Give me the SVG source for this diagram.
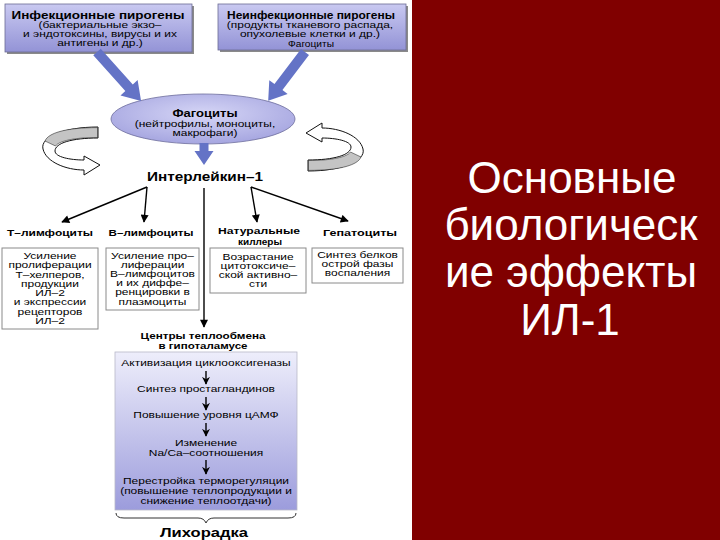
<svg xmlns="http://www.w3.org/2000/svg" width="720" height="540" viewBox="0 0 720 540">
<defs>
<linearGradient id="gTop" x1="0" y1="0" x2="0" y2="1">
<stop offset="0" stop-color="#c9c9f1"/>
<stop offset="1" stop-color="#9393d6"/>
</linearGradient>
<radialGradient id="gEll" cx="0.5" cy="0.4" r="0.6">
<stop offset="0" stop-color="#d6d6f6"/>
<stop offset="1" stop-color="#a6a6e0"/>
</radialGradient>
<linearGradient id="gBox" x1="0" y1="0" x2="0" y2="1">
<stop offset="0" stop-color="#eeeefb"/>
<stop offset="1" stop-color="#9c9cdc"/>
</linearGradient>
<marker id="ah" viewBox="0 0 10 10" refX="9" refY="5" markerWidth="9" markerHeight="8" markerUnits="userSpaceOnUse" orient="auto">
<path d="M0,0 L10,5 L0,10 Z" fill="#000"/>
</marker>
<marker id="ah2" viewBox="0 0 10 10" refX="9" refY="5" markerWidth="8" markerHeight="9" markerUnits="userSpaceOnUse" orient="auto">
<path d="M0,0 L10,5 L0,10 L3,5 Z" fill="#000"/>
</marker>
<path id="curlShape" d="M98,127 C64,127 40,137 43,149 C46,162 66,170 84,170 L84,175 L100,165 L84,156 L84,160 C70,160 55,157 55,151 C55,143 72,138 98,138 Z"/>
<path id="curlShade" d="M97.5,127.6 C66,127.6 48,133 45,141 L55.5,146 C59,141 74,137.5 97.5,137.5 Z"/>
</defs>
<style>
text{font-family:"Liberation Sans","DejaVu Sans",Arial,sans-serif;fill:#000;text-anchor:middle}
.b{font-weight:bold}
.n{font-size:9px}
.topbox{fill:url(#gTop);stroke:#6c6c94;stroke-width:0.8}
.shadow{fill:#8a8a8a}
.cell{fill:#fff;stroke:#8a8a8a;stroke-width:1}
.thick{fill:#6473c6}
.thin{stroke:#000;stroke-width:1.4;fill:none}
.curl{fill:#fff;stroke:#111;stroke-width:1}
.shade{fill:#c4c4c4;stroke:#111;stroke-width:0.5}
.title{font-size:44px;fill:#fff}
</style>
<rect x="0" y="0" width="720" height="540" fill="#fff"/>
<rect x="412" y="0" width="308" height="540" fill="#800000"/>

<g id="curl-left">
<use href="#curlShape" class="curl"/>
<use href="#curlShade" class="shade"/>
</g>
<g id="curl-right" transform="rotate(180 203 149)">
<use href="#curlShape" class="curl"/>
<use href="#curlShade" class="shade"/>
</g>

<g id="infect">
<rect class="shadow" x="7" y="6" width="187" height="48"/>
<rect class="topbox" x="5" y="4" width="187" height="48"/>
<text class="b" style="font-size:10.5px" x="98" y="18.5" textLength="173" lengthAdjust="spacingAndGlyphs">Инфекционные пирогены</text>
<g transform="translate(100 0) scale(1.33 1)">
<text class="n" x="0" y="28.5">(бактериальные экзо–</text>
<text class="n" x="0" y="37.5">и эндотоксины, вирусы и их</text>
<text class="n" x="0" y="46.5">антигены и др.)</text>
</g>
</g>

<g id="noninfect">
<rect class="shadow" x="220" y="6" width="188" height="46"/>
<rect class="topbox" x="218" y="4" width="188" height="46"/>
<text class="b" style="font-size:10.5px" x="311" y="18.5" textLength="168" lengthAdjust="spacingAndGlyphs">Неинфекционные пирогены</text>
<g transform="translate(310 0) scale(1.33 1)">
<text class="n" x="0" y="28">(продукты тканевого распада,</text>
<text class="n" x="0" y="37">опухолевые клетки и др.)</text>
</g>
<text class="n" x="311" y="46.5" textLength="46" lengthAdjust="spacingAndGlyphs">Фагоциты</text>
</g>

<g id="phago">
<ellipse cx="203" cy="119" rx="92" ry="25" fill="url(#gEll)" stroke="#6c6c9c" stroke-width="0.8"/>
<text class="b" style="font-size:10.5px" x="205" y="116.5" textLength="65" lengthAdjust="spacingAndGlyphs">Фагоциты</text>
<g transform="translate(205 0) scale(1.33 1)">
<text class="n" x="0" y="127">(нейтрофилы, моноциты,</text>
<text class="n" x="0" y="136.5">макрофаги)</text>
</g>
</g>

<g id="il1">
<text class="b" style="font-size:12px" x="205" y="181" textLength="116" lengthAdjust="spacingAndGlyphs">Интерлейкин–1</text>
</g>

<g id="tlymph">
<text class="b" style="font-size:9.5px" x="50" y="236" textLength="86" lengthAdjust="spacingAndGlyphs">Т–лимфоциты</text>
<rect class="cell" x="2" y="248" width="96" height="81"/>
<g transform="translate(50 0) scale(1.33 1)">
<text class="n" x="0" y="259">Усиление</text>
<text class="n" x="0" y="268.5">пролиферации</text>
<text class="n" x="0" y="278">Т–хелперов,</text>
<text class="n" x="0" y="287">продукции</text>
<text class="n" x="0" y="296.5">ИЛ–2</text>
<text class="n" x="0" y="305.5">и экспрессии</text>
<text class="n" x="0" y="315">рецепторов</text>
<text class="n" x="0" y="324">ИЛ–2</text>
</g>
</g>

<g id="blymph">
<text class="b" style="font-size:9.5px" x="151" y="236" textLength="85" lengthAdjust="spacingAndGlyphs">В–лимфоциты</text>
<rect class="cell" x="106" y="248" width="93" height="62"/>
<g transform="translate(152.5 0) scale(1.33 1)">
<text class="n" x="0" y="259">Усиление про–</text>
<text class="n" x="0" y="268">лиферации</text>
<text class="n" x="0" y="277.5">В–лимфоцитов</text>
<text class="n" x="0" y="286.5">и их диффе–</text>
<text class="n" x="0" y="295.5">ренцировки в</text>
<text class="n" x="0" y="305">плазмоциты</text>
</g>
</g>

<g id="nk">
<text class="b" style="font-size:9px" x="259" y="234" textLength="82" lengthAdjust="spacingAndGlyphs">Натуральные</text>
<text class="b" style="font-size:9px" x="260" y="244.5" textLength="44" lengthAdjust="spacingAndGlyphs">киллеры</text>
<rect class="cell" x="210" y="248" width="96" height="45"/>
<g transform="translate(258 0) scale(1.33 1)">
<text class="n" x="0" y="260">Возрастание</text>
<text class="n" x="0" y="269">цитотоксиче–</text>
<text class="n" x="0" y="278">ской активно–</text>
<text class="n" x="0" y="287">сти</text>
</g>
</g>

<g id="hepato">
<text class="b" style="font-size:9.5px" x="360" y="236" textLength="74" lengthAdjust="spacingAndGlyphs">Гепатоциты</text>
<rect class="cell" x="312" y="248" width="91" height="35"/>
<g transform="translate(357.5 0) scale(1.33 1)">
<text class="n" x="0" y="258">Синтез белков</text>
<text class="n" x="0" y="267">острой фазы</text>
<text class="n" x="0" y="276">воспаления</text>
</g>
</g>

<g id="centers">
<text class="b" style="font-size:9.5px" x="203" y="339" textLength="125" lengthAdjust="spacingAndGlyphs">Центры теплообмена</text>
<text class="b" style="font-size:9.5px" x="203" y="349" textLength="89" lengthAdjust="spacingAndGlyphs">в гипоталамусе</text>
</g>

<g id="cascade">
<rect x="115" y="352" width="182" height="158" fill="url(#gBox)" stroke="#b8b8c8" stroke-width="0.8"/>
<g transform="translate(206 0) scale(1.33 1)">
<text class="n" x="0" y="366">Активизация циклооксигеназы</text>
<text class="n" x="0" y="392">Синтез простагландинов</text>
<text class="n" x="0" y="418">Повышение уровня цАМФ</text>
<text class="n" x="0" y="446">Изменение</text>
<text class="n" x="0" y="456">Na/Ca–соотношения</text>
<text class="n" x="0" y="484">Перестройка терморегуляции</text>
<text class="n" x="0" y="494">(повышение теплопродукции и</text>
<text class="n" x="0" y="504">снижение теплоотдачи)</text>
</g>
</g>

<g id="fever">
<path d="M116,513 Q116,518 124,518 L198,518 Q204,518 206,523 Q208,518 214,518 L288,518 Q296,518 296,513" fill="none" stroke="#333" stroke-width="1"/>
<text class="b" style="font-size:12.5px" x="204" y="537" textLength="88" lengthAdjust="spacingAndGlyphs">Лихорадка</text>
</g>

<g id="connectors">
<polygon class="thick" points="0,-5 48,-5 48,-11.5 66,0 48,11.5 48,5 0,5" transform="translate(97,52) rotate(48.1)"/>
<polygon class="thick" points="0,-5 44,-5 44,-11.5 61,0 44,11.5 44,5 0,5" transform="translate(305,52) rotate(127.1)"/>
<polygon class="thick" points="0,-4.5 8,-4.5 8,-9.5 22,0 8,9.5 8,4.5 0,4.5" transform="translate(204,143) rotate(90)"/>
<line class="thin" x1="147" y1="187" x2="62" y2="222" marker-end="url(#ah)"/>
<line class="thin" x1="147" y1="187" x2="144" y2="222" marker-end="url(#ah)"/>
<line class="thin" x1="251" y1="187" x2="257" y2="222" marker-end="url(#ah)"/>
<line class="thin" x1="251" y1="187" x2="348" y2="221" marker-end="url(#ah)"/>
<line class="thin" x1="204" y1="188" x2="204" y2="327" marker-end="url(#ah)"/>
<line class="thin" x1="206" y1="371" x2="206" y2="384" marker-end="url(#ah2)"/>
<line class="thin" x1="206" y1="397" x2="206" y2="410" marker-end="url(#ah2)"/>
<line class="thin" x1="206" y1="423" x2="206" y2="436" marker-end="url(#ah2)"/>
<line class="thin" x1="206" y1="460" x2="206" y2="474" marker-end="url(#ah2)"/>
</g>

<g id="title">
<text class="title" x="572" y="193">Основные</text>
<text class="title" x="571" y="240">биологическ</text>
<text class="title" x="571" y="287">ие эффекты</text>
<text class="title" x="570" y="335">ИЛ-1</text>
</g>
</svg>
